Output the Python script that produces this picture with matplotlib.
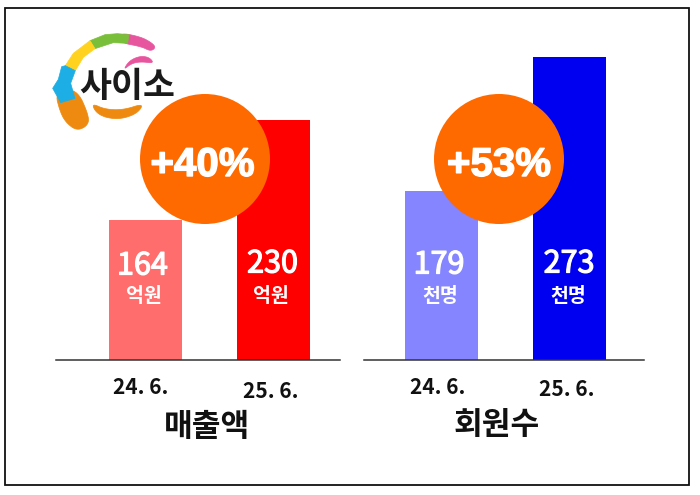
import matplotlib
matplotlib.use("Agg")
import matplotlib.pyplot as plt
import matplotlib.patheffects as pe
from matplotlib.patches import Circle, Polygon, Rectangle

W, H = 700, 495
KR = ["Noto Sans CJK KR", "DejaVu Sans"]

periods = ["24. 6.", "25. 6."]
sales_labels = ["164", "230"]
sales_unit = "억원"
sales_bar_heights = [140, 240]
sales_colors = ["#FF6D6D", "#FF0000"]
sales_title = "매출액"
sales_change = "+40%"
member_labels = ["179", "273"]
member_unit = "천명"
member_bar_heights = [169, 303]
member_colors = ["#8585FF", "#0000F0"]
member_title = "회원수"
member_change = "+53%"
logo_text = "사이소"

fig = plt.figure(figsize=(W / 100, H / 100), dpi=100, facecolor="white")
PT = 0.72


def panel(x0, x1, centers, heights, labels, unit, colors, title, layout):
    base, top = 360, 40
    ax = fig.add_axes([x0 / W, 1 - base / H, (x1 - x0) / W, (base - top) / H])
    ax.patch.set_alpha(0)
    ax.set_xlim(x0, x1)
    ax.set_ylim(0, base - top)
    ax.bar(centers, heights, width=73, color=colors, linewidth=0, zorder=2)
    for s in ("top", "left", "right"):
        ax.spines[s].set_visible(False)
    ax.spines["bottom"].set_color("#333333")
    ax.spines["bottom"].set_linewidth(1.1)
    ax.spines["bottom"].set_zorder(3)
    ax.set_yticks([])
    ax.set_xticks([])

    def put(text, x, y, size, weight, color, stroke=0):
        t = ax.annotate(text, (x, 0), xytext=(0, (base - y) * PT), textcoords="offset points",
                        ha="center", va="center", fontsize=size, fontweight=weight, family=KR,
                        color=color, annotation_clip=False, zorder=4)
        if stroke:
            t.set_path_effects([pe.withStroke(linewidth=stroke, foreground=color)])

    for i in range(2):
        put(periods[i], layout["tick_x"][i], layout["tick_y"][i], 15, "bold", "#111111")
        put(labels[i], layout["num_x"][i], layout["num_y"][i], 22, "regular", "#FFFFFF", stroke=0.9)
        put(unit, layout["unit_x"][i], 296, 14, "bold", "#FFFFFF")
    put(title, layout["title_x"], layout["title_y"], 22.5, "bold", "#111111")


panel(56, 340, [145, 273.5], sales_bar_heights, sales_labels, sales_unit, sales_colors, sales_title,
      dict(tick_x=[141, 271], tick_y=[388, 391], num_x=[142.5, 272.5], num_y=[266, 264],
           unit_x=[144, 271], title_x=207, title_y=427))
panel(364, 644, [441.5, 569.5], member_bar_heights, member_labels, member_unit, member_colors, member_title,
      dict(tick_x=[438, 567], tick_y=[388, 390], num_x=[439, 569], num_y=[265, 264],
           unit_x=[440, 568], title_x=497, title_y=425))

ov = fig.add_axes([0, 0, 1, 1])
ov.set_xlim(0, W)
ov.set_ylim(H, 0)
ov.axis("off")
ov.patch.set_alpha(0)

ov.add_patch(Rectangle((4.5, 8), 684.5, 477, fill=False, ec="#111111", lw=1.3))

for cx, tx, txt in ((205, 202.5, sales_change), (499, 499, member_change)):
    ov.add_patch(Circle((cx, 159), 65, fc="#FF6A00", ec="none", zorder=3))
    ov.text(tx, 165, txt, ha="center", va="center", fontsize=29, fontweight="bold",
            family="Liberation Sans", color="white", zorder=4,
            path_effects=[pe.withStroke(linewidth=1.0, foreground="white")])


def zp(points):
    return [(30 + x / 3, 20 + y / 3) for x, y in points]


def smooth(points, rounds=3):
    for _ in range(rounds):
        out = []
        n = len(points)
        for i in range(n):
            (a, b), (c, d) = points[i], points[(i + 1) % n]
            out += [(0.75 * a + 0.25 * c, 0.75 * b + 0.25 * d), (0.25 * a + 0.75 * c, 0.25 * b + 0.75 * d)]
        points = out
    return points


logo_parts = [
    ("#E8559F", True, [(270, 38), (330, 50), (362, 66), (378, 82), (362, 94), (335, 80), (270, 68)]),
    ("#7ABF3A", False, [(180, 62), (225, 44), (262, 41), (297, 44), (293, 70), (250, 68), (195, 86)]),
    ("#FFD21F", False, [(180, 62), (195, 86), (160, 112), (136, 152), (106, 137), (130, 100)]),
    ("#EE8A10", True, [(75, 215), (140, 205), (178, 290), (172, 318), (140, 332), (108, 308), (90, 275)]),
    ("#1CAEE4", False, [(95, 140), (106, 137), (136, 152), (122, 190), (135, 235), (92, 248), (68, 205), (85, 178)]),
    ("#EE8A10", True, [(185, 250), (225, 268), (280, 270), (342, 250), (322, 280), (275, 297), (230, 294), (198, 278)]),
    ("#E8559F", True, [(280, 150), (298, 122), (330, 108), (358, 112), (372, 130), (335, 125), (305, 130)]),
]
for color, rounded, pts in logo_parts:
    shape = smooth(pts) if rounded else pts
    ov.add_patch(Polygon(zp(shape), closed=True, fc=color, ec=color, lw=0.5, joinstyle="round", zorder=2))
ov.text(127, 87, logo_text, ha="center", va="center", fontsize=25, fontweight="black",
        family=KR, color="#1A1A1A", zorder=2)

fig.savefig("out.png", dpi=100)
